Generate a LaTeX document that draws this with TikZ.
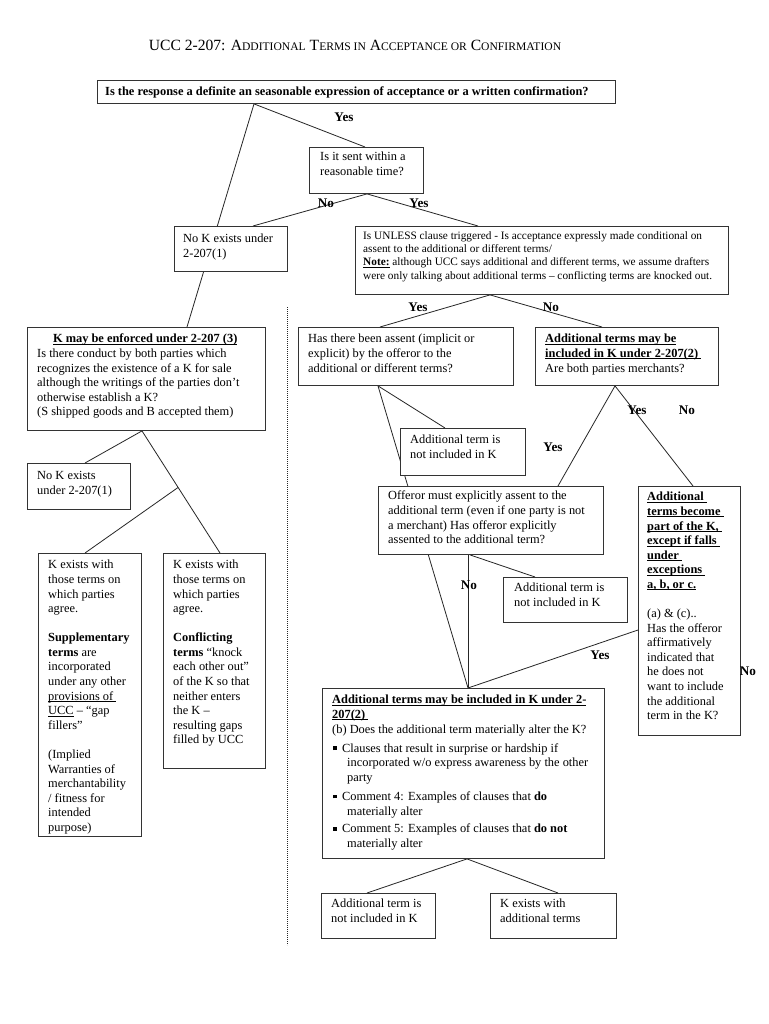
\documentclass[tikz,border=0pt]{standalone}
\usepackage{fontspec}
\setmainfont{Liberation Serif}
\usetikzlibrary{calc}
\pgfdeclarelayer{bg}
\pgfsetlayers{bg,main}
\newcommand\myul[1]{\setbox0\hbox{#1}\rlap{\rule[-1.6pt]{\wd0}{0.6pt}}\box0}
\newcommand\fsc[1]{{\fontsize{11.6}{13}\selectfont #1}}
\newcommand\sqb{\rule[2pt]{3.8pt}{3.8pt}}
\tikzset{
  box/.style={draw=black!80, line width=0.9pt, fill=white, anchor=north west, inner sep=0pt},
  txt/.style={anchor=north west, inner sep=0pt, align=left, font=\fontsize{12.4}{14.6}\selectfont},
  smalltxt/.style={anchor=north west, inner sep=0pt, align=left, font=\fontsize{11.3}{13.4}\selectfont},
  lbl/.style={inner sep=0pt, font=\fontsize{13.2}{15}\selectfont\bfseries},
  conn/.style={draw=black!85, line width=0.8pt},
}
\begin{document}
\begin{tikzpicture}[x=1pt,y=-1pt]
\useasboundingbox (0,0) rectangle (768,1024);
\begin{pgfonlayer}{bg}
\fill[white] (0,0) rectangle (768,1024);
\end{pgfonlayer}

% title
\node[inner sep=0pt, font=\fontsize{15.6}{17}\selectfont] (title) at (355,45)
  {UCC 2-207: A\fsc{DDITIONAL} T\fsc{ERMS IN} A\fsc{CCEPTANCE OR} C\fsc{ONFIRMATION}};

% boxes
\node[box, minimum width=518pt, minimum height=23pt] (q0) at (97,80) {};
\node[box, minimum width=114pt, minimum height=46pt] (qtime) at (309,147) {};
\node[box, minimum width=113pt, minimum height=45pt] (noK1) at (174,226) {};
\node[box, minimum width=373pt, minimum height=68pt] (unless) at (355,226) {};
\node[box, minimum width=215pt, minimum height=58pt] (assent) at (298,327) {};
\node[box, minimum width=183pt, minimum height=58pt] (addl) at (535,327) {};
\node[box, minimum width=125pt, minimum height=47pt] (notinc1) at (400,428) {};
\node[box, minimum width=225pt, minimum height=68pt] (offeror) at (378,486) {};
\node[box, minimum width=124pt, minimum height=45pt] (notinc2) at (503,577) {};
\node[box, minimum width=102pt, minimum height=249pt] (become) at (638,486) {};
\node[box, minimum width=282pt, minimum height=170pt] (bottom) at (322,688) {};
\node[box, minimum width=114pt, minimum height=45pt] (notinc3) at (321,893) {};
\node[box, minimum width=126pt, minimum height=45pt] (kex) at (490,893) {};
\node[box, minimum width=238pt, minimum height=103pt] (enf) at (27,327) {};
\node[box, minimum width=103pt, minimum height=46pt] (noK2) at (27,463) {};
\node[box, minimum width=103pt, minimum height=283pt] (kexL) at (38,553) {};
\node[box, minimum width=102pt, minimum height=215pt] (kexR) at (163,553) {};

% connectors
\begin{pgfonlayer}{bg}
\draw[conn] ([xshift=157pt]q0.south west) -- ([xshift=160pt]enf.north west);
\draw[conn] ([xshift=157pt]q0.south west) -- ([xshift=56pt]qtime.north west);
\draw[conn] ([xshift=58pt]qtime.south west) -- ([xshift=79pt]noK1.north west);
\draw[conn] ([xshift=58pt]qtime.south west) -- ([xshift=123pt]unless.north west);
\draw[conn] ([xshift=135pt]unless.south west) -- ([xshift=82pt]assent.north west);
\draw[conn] ([xshift=135pt]unless.south west) -- ([xshift=67pt]addl.north west);
\draw[conn] ([xshift=80pt]assent.south west) -- ([xshift=45pt]notinc1.north west);
\draw[conn] ([xshift=80pt]assent.south west) -- ([xshift=146pt]bottom.north west);
\draw[conn] ([xshift=80pt]addl.south west) -- ([xshift=180pt]offeror.north west);
\draw[conn] ([xshift=80pt]addl.south west) -- ([xshift=55pt]become.north west);
\draw[conn] ([xshift=90pt]offeror.south west) -- ([xshift=146pt]bottom.north west);
\draw[conn] ([xshift=92pt]offeror.south west) -- ([xshift=32pt]notinc2.north west);
\draw[conn] ([yshift=-144pt]become.north west) -- ([xshift=146pt]bottom.north west);
\draw[conn] ([xshift=145pt]bottom.south west) -- ([xshift=46pt]notinc3.north west);
\draw[conn] ([xshift=145pt]bottom.south west) -- ([xshift=68pt]kex.north west);
\draw[conn] ([xshift=115pt]enf.south west) -- ([xshift=58pt]noK2.north west);
\draw[conn] ([xshift=115pt]enf.south west) -- ([xshift=57pt]kexR.north west);
\coordinate (br) at ($([xshift=115pt]enf.south west)!0.463!([xshift=57pt]kexR.north west)$);
\draw[conn] (br) -- ([xshift=47pt]kexL.north west);
\coordinate (d1) at (287,307);
\coordinate (d2) at (287,945);
\draw[draw=black!85, line width=0.8pt, dash pattern=on 0.9pt off 1.1pt] (d1) -- (d2);
\end{pgfonlayer}

% texts
\node[anchor=west, inner sep=0pt, font=\fontsize{12.4}{14}\selectfont\bfseries] (tq0) at (105,92)
  {Is the response a definite an seasonable expression of acceptance or a written confirmation?};
\node[txt] (tqtime) at (320,152) {Is it sent within a\\reasonable time?};
\node[txt] (tnoK1) at (183,234) {No K exists under\\2-207(1)};
\node[smalltxt] (tunless) at (363,231) {Is UNLESS clause triggered - Is acceptance expressly made conditional on\\
assent to the additional or different terms/\\
\textbf{\myul{Note:}} although UCC says additional and different terms, we assume drafters\\
were only talking about additional terms -- conflicting terms are knocked out.};
\node[txt] (tassent) at (308,334) {Has there been assent (implicit or\\explicit) by the offeror to the\\additional or different terms?};
\node[txt] (taddl) at (545,334) {\textbf{\myul{Additional terms may be}}\\
\textbf{\myul{included in K under 2-207(2) }}\\
Are both parties merchants?};
\node[txt] (tnotinc1) at (410,435) {Additional term is\\not included in K};
\node[txt] (tofferor) at (388,491) {Offeror must explicitly assent to the\\
additional term (even if one party is not\\
a merchant) Has offeror explicitly\\
assented to the additional term?};
\node[txt] (tnotinc2) at (514,583) {Additional term is\\not included in K};
\node[txt] (tbecome) at (647,492) {\textbf{\myul{Additional }}\\
\textbf{\myul{terms become }}\\
\textbf{\myul{part of the K, }}\\
\textbf{\myul{except if falls }}\\
\textbf{\myul{under }}\\
\textbf{\myul{exceptions }}\\
\textbf{\myul{a, b, or c.}}\\[14.5pt]
(a) \& (c)..\\
Has the offeror\\
affirmatively\\
indicated that\\
he does not\\
want to include\\
the additional\\
term in the K?};
\node[txt] (tbottom) at (332,695) {\textbf{\myul{Additional terms may be included in K under 2-}}\\
\textbf{\myul{207(2) }}\\
(b) Does the additional term materially alter the K?\\[4.5pt]
\makebox[10pt][l]{\hspace{1pt}\sqb}Clauses that result in surprise or hardship if\\
\hspace*{15pt}incorporated w/o express awareness by the other\\
\hspace*{15pt}party\\[4.5pt]
\makebox[10pt][l]{\hspace{1pt}\sqb}Comment 4: Examples of clauses that \textbf{do}\\
\hspace*{15pt}materially alter\\[3pt]
\makebox[10pt][l]{\hspace{1pt}\sqb}Comment 5: Examples of clauses that \textbf{do not}\\
\hspace*{15pt}materially alter};
\node[txt] (tnotinc3) at (331,899) {Additional term is\\not included in K};
\node[txt] (tkex) at (500,899) {K exists with\\additional terms};
\node[txt] (tenf) at (37,334) {\makebox[216pt]{\textbf{\myul{K may be enforced under 2-207 (3)}}}\\
Is there conduct by both parties which\\
recognizes the existence of a K for sale\\
although the writings of the parties don't\\
otherwise establish a K?\\
(S shipped goods and B accepted them)};
\node[txt] (tnoK2) at (37,471) {No K exists\\under 2-207(1)};
\node[txt] (tkexL) at (48,560) {K exists with\\
those terms on\\
which parties\\
agree.\\[14.5pt]
\textbf{Supplementary}\\
\textbf{terms} are\\
incorporated\\
under any other\\
\myul{provisions of }\\
\myul{UCC}\ -- “gap\\
fillers”\\[14.5pt]
(Implied\\
Warranties of\\
merchantability\\
/ fitness for\\
intended\\
purpose)};
\node[txt] (tkexR) at (173,560) {K exists with\\
those terms on\\
which parties\\
agree.\\[14.5pt]
\textbf{Conflicting}\\
\textbf{terms} “knock\\
each other out”\\
of the K so that\\
neither enters\\
the K --\\
resulting gaps\\
filled by UCC};

% labels
\node[lbl] (l1) at (344,117) {Yes};
\node[lbl] (l2) at (326,203) {No};
\node[lbl] (l3) at (419,203) {Yes};
\node[lbl] (l4) at (418,307) {Yes};
\node[lbl] (l5) at (551,307) {No};
\node[lbl] (l6) at (553,447) {Yes};
\node[lbl] (l7) at (637,410) {Yes};
\node[lbl] (l8) at (687,410) {No};
\node[lbl] (l9) at (469,585) {No};
\node[lbl] (l10) at (600,655) {Yes};
\node[lbl] (l11) at (748,671) {No};
\end{tikzpicture}
\end{document}
